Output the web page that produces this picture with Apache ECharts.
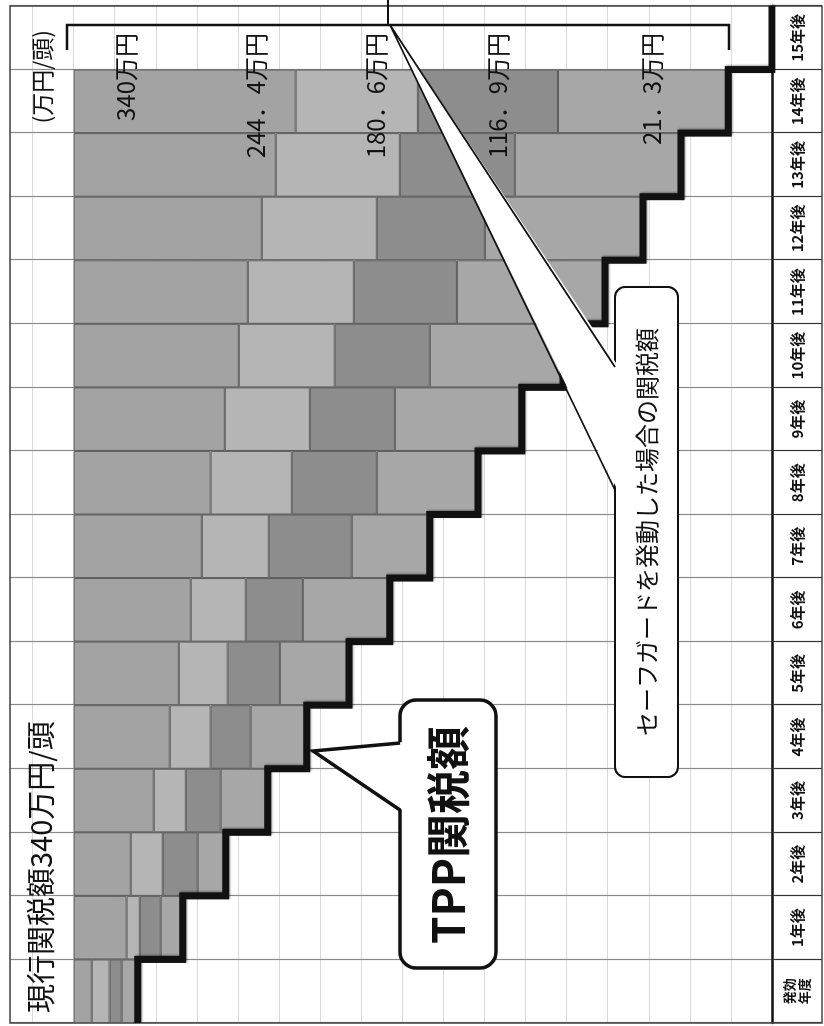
<!DOCTYPE html>
<html><head><meta charset="utf-8">
<script src="https://cdn.jsdelivr.net/npm/echarts@6/dist/echarts.min.js"></script>
<style>
html,body{margin:0;padding:0;background:#fff;overflow:hidden;width:824px;height:1026px;}
#wrap{position:absolute;left:0;top:0;width:1026px;height:824px;transform-origin:0 0;transform:translate(0px,1026px) rotate(-90deg);}
#chart{width:1026px;height:824px;}
</style></head><body>
<div id="wrap"><div id="chart"></div></div>
<script>
// ---- data (万円/頭) ----
const categories = ['発効\n年度','1年後','2年後','3年後','4年後','5年後','6年後','7年後','8年後','9年後','10年後','11年後','12年後','13年後','14年後','15年後'];
const currentTariff = 340;
// TPP tariff (black step line / end of grey bars)
const tppTariff = [308.8, 286.9, 266.0, 245.5, 226.5, 206.0, 186.1, 166.6, 143.2, 121.8, 101.8, 81.3, 62.8, 44.3, 21.3, 0];
// boundaries between the four grey bands (from 340 downward)
const level1 = [331.2, 314.2, 312.2, 301.0, 293.2, 288.8, 283.0, 277.6, 273.3, 266.4, 259.6, 255.2, 248.4, 241.6, 231.9, null];
const level2 = [322.5, 307.8, 296.6, 285.4, 273.3, 265.0, 256.2, 245.0, 233.8, 225.0, 212.9, 203.6, 192.4, 181.2, 172.4, null];
const level3 = [316.6, 297.6, 279.6, 268.4, 253.8, 239.6, 228.4, 204.6, 192.4, 183.6, 166.6, 153.4, 139.8, 125.2, 104.2, null];
const levelLabels = ['340万円', '244．4万円', '180．6万円', '116．9万円', '21．3万円'];
const titleText = '現行関税額340万円/頭';
const unitText = '(万円/頭)';
const tppText = 'TPP関税額';
const sgText = 'セーフガードを発動した場合の関税額';

// ---- derived ----
const diff = (a, b) => a.map((v, i) => (v == null || b[i] == null) ? null : +(v - b[i]).toFixed(2));
const top340 = categories.map((c, i) => level1[i] == null ? null : currentTariff);
const seg4 = diff(level3, tppTariff);
const seg3 = diff(level2, level3);
const seg2 = diff(level1, level2);
const seg1 = diff(top340, level1);
const stepPts = tppTariff.map((v, i) => [i, v]);
stepPts.push([categories.length, tppTariff[tppTariff.length - 1]]);

const FONT = "'Noto Sans CJK JP', 'Noto Sans', sans-serif";
const barBase = { type: 'bar', stack: 'a', barWidth: '100%', barCategoryGap: 0, silent: true };

const chart = echarts.init(document.getElementById('chart'), null, { renderer: 'canvas' });
const labelYs = [126, 256, 376, 498, 652];

chart.setOption({
  animation: false,
  backgroundColor: '#fff',
  grid: { left: 3, right: 6, top: 10, bottom: 52, containLabel: false, outerBoundsMode: 'none' },
  xAxis: [
    { type: 'category', data: categories, boundaryGap: true,
      axisLine: { lineStyle: { color: '#111', width: 2.5 } },
      axisTick: { show: true, interval: 0, length: 50, lineStyle: { color: '#333', width: 1.2 } },
      axisLabel: { interval: 0, margin: 25, verticalAlign: 'middle', color: '#111', fontWeight: 'bold',
        fontSize: 15, lineHeight: 15, fontFamily: FONT,
        formatter: v => v.indexOf('\n') >= 0 ? '{s|' + v.replace('\n', '}\n{s|') + '}' : v,
        rich: { s: { fontSize: 13, lineHeight: 15, fontWeight: 'bold', color: '#111', fontFamily: FONT } } },
      splitLine: { show: true, interval: 0, lineStyle: { color: '#8a8a8a', width: 1.2 } } },
    { type: 'value', min: 0, max: categories.length, show: false }
  ],
  yAxis: { type: 'value', min: 0, max: 371, interval: 20,
    axisLabel: { show: false }, axisLine: { show: false }, axisTick: { show: false },
    splitLine: { lineStyle: { color: '#dadada', width: 1 } } },
  series: [
    Object.assign({}, barBase, { name: 'TPP', data: tppTariff, itemStyle: { color: 'rgba(0,0,0,0)', borderWidth: 0 } }),
    Object.assign({}, barBase, { name: 'b4', data: seg4, itemStyle: { color: '#a7a7a7', borderColor: '#5c5c5c', borderWidth: 1 } }),
    Object.assign({}, barBase, { name: 'b3', data: seg3, itemStyle: { color: '#8d8d8d', borderColor: '#5c5c5c', borderWidth: 1 } }),
    Object.assign({}, barBase, { name: 'b2', data: seg2, itemStyle: { color: '#b5b5b5', borderColor: '#5c5c5c', borderWidth: 1 } }),
    Object.assign({}, barBase, { name: 'b1', data: seg1, itemStyle: { color: '#a3a3a3', borderColor: '#5c5c5c', borderWidth: 1 } }),
    { type: 'line', xAxisIndex: 1, yAxisIndex: 0, data: stepPts, step: 'end', symbol: 'none', silent: true, z: 5,
      lineStyle: { color: '#111', width: 7, join: 'miter', cap: 'butt', shadowColor: 'rgba(0,0,0,0.35)', shadowBlur: 2, shadowOffsetX: 1, shadowOffsetY: 1 } }
  ],
  graphic: { elements: [
    { type: 'rect', shape: { x: 3, y: 10, width: 1017, height: 812 }, style: { fill: 'none', stroke: '#444', lineWidth: 1.5 }, z: 1, silent: true },
    { type: 'text', z: 50, silent: true, style: { text: titleText, x: 13, y: 41, font: '29px ' + FONT, fill: '#111', textAlign: 'left', textVerticalAlign: 'middle' } },
    { type: 'text', z: 50, silent: true, style: { text: unitText, x: 996, y: 42, font: '23px ' + FONT, fill: '#111', textAlign: 'right', textVerticalAlign: 'middle' } },
  ].concat(levelLabels.map((t, i) => ({ type: 'text', z: 50, silent: true,
      style: { text: t, x: 993, y: labelYs[i], font: '24px ' + FONT, fill: '#111', textAlign: 'right', textVerticalAlign: 'middle' } })))
  .concat([
    // bracket over the 15年後 column
    { type: 'polyline', z: 50, silent: true, shape: { points: [[976, 67], [1001, 67], [1001, 729], [976, 729]] }, style: { stroke: '#111', lineWidth: 2.5, fill: null } },
    { type: 'line', z: 50, silent: true, shape: { x1: 1001, y1: 388, x2: 1026, y2: 388 }, style: { stroke: '#111', lineWidth: 2 } },
    // safeguard callout
    { type: 'rect', z: 60, silent: true, shape: { x: 249, y: 615, width: 490, height: 63, r: 10 }, style: { fill: '#fff', stroke: '#111', lineWidth: 2 } },
    { type: 'polygon', z: 61, silent: true, shape: { points: [[1001, 390], [660, 618], [535, 618]] }, style: { fill: '#fff', stroke: null } },
    { type: 'polyline', z: 62, silent: true, shape: { points: [[659, 615], [1001, 390], [536, 615]] }, style: { stroke: '#111', lineWidth: 1.8, fill: null } },
    { type: 'text', z: 63, silent: true, style: { text: sgText, x: 494, y: 647, font: '24px ' + FONT, fill: '#111', textAlign: 'center', textVerticalAlign: 'middle' } },
    // TPP callout
    { type: 'rect', z: 60, silent: true, shape: { x: 58, y: 400, width: 268, height: 96, r: 16 }, style: { fill: '#fff', stroke: '#111', lineWidth: 3.5 } },
    { type: 'polygon', z: 61, silent: true, shape: { points: [[275, 313], [284, 404], [215, 404]] }, style: { fill: '#fff', stroke: null } },
    { type: 'polyline', z: 62, silent: true, shape: { points: [[283, 400], [275, 313], [216, 400]] }, style: { stroke: '#111', lineWidth: 3.5, fill: null } },
    { type: 'text', z: 63, silent: true, style: { text: tppText, x: 191, y: 448, font: 'bold 44px ' + FONT, fill: '#111', textAlign: 'center', textVerticalAlign: 'middle' } }
  ]) }
});
</script>
</body></html>
